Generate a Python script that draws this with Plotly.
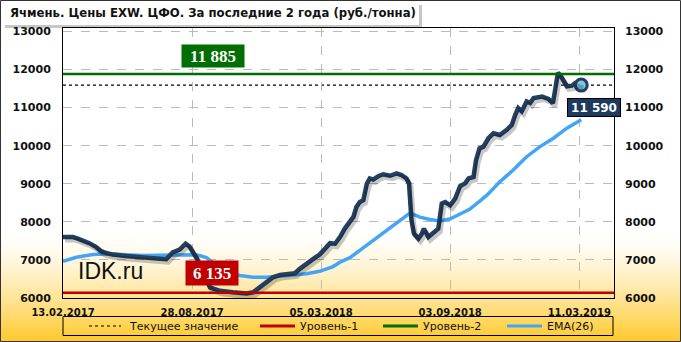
import plotly.graph_objects as go

# ---------------- data ----------------
tick_pos = [0, 26, 52, 78, 104]
tick_text = ["13.02.2017", "28.08.2017", "05.03.2018", "03.09.2018", "11.03.2019"]
y_ticks = [6000, 7000, 8000, 9000, 10000, 11000, 12000, 13000]

price_x = [0, 2.0, 3.0, 4.0, 5.3, 6.7, 7.7, 8.7, 10.0, 12.7, 15.4, 18.1, 20.8, 22.1, 23.5, 24.7,
           25.5, 26.2, 27.0, 29.6, 30.6, 31.6, 34.2, 37.0, 38.3, 39.6, 41.0, 42.3, 43.7, 45.7,
           46.7, 47.7, 49.1, 50.7, 51.7, 52.7, 53.8, 54.8, 55.8, 56.8, 57.8, 58.5, 59.1, 59.8,
           60.5, 61.2, 61.8, 62.5, 63.5, 64.5, 65.9, 67.2, 68.2, 69.2, 69.7, 69.9, 70.2, 70.7,
           71.6, 72.3, 72.7, 73.6, 74.6, 75.6, 76.3, 77.0, 78.0, 79.0, 80.0, 81.0, 81.7, 82.7,
           83.2, 83.9, 84.7, 85.7, 86.7, 88.0, 89.4, 90.4, 91.1, 91.7, 92.4, 93.4, 94.1, 94.8,
           96.5, 97.8, 98.7, 99.1, 99.7, 100.1, 100.8, 101.5, 102.5, 103.2, 104.4]
price_y = [7600, 7600, 7560, 7510, 7440, 7335, 7230, 7180, 7140, 7100, 7080, 7055, 7020, 7200,
           7270, 7425, 7350, 7200, 7030, 6280, 6240, 6190, 6150, 6120, 6150, 6280, 6410, 6545,
           6605, 6635, 6650, 6765, 6915, 7055, 7140, 7290, 7440, 7425, 7600, 7830, 8010, 8130,
           8390, 8520, 8570, 9000, 9140, 9110, 9200, 9250, 9210, 9270, 9230, 9140, 9010, 8570,
           8040, 7690, 7560, 7690, 7820, 7600, 7730, 7820, 8480, 8520, 8435, 8610, 8940, 9010,
           9140, 9180, 9620, 9930, 9975, 10195, 10325, 10280, 10415, 10545, 10810, 10985, 10900,
           11160, 11120, 11250, 11290, 11225, 11120, 11470, 11910, 11865, 11690, 11560, 11575,
           11645, 11590]

ema_x = [0, 2.7, 6.0, 9.4, 12.7, 16.1, 19.5, 22.8, 26.2, 27.5, 28.9, 30.9, 32.9, 35.6, 38.3,
         41.0, 43.7, 46.4, 49.1, 51.7, 54.4, 55.8, 57.8, 59.8, 62.5, 65.2, 67.9, 69.9, 71.9,
         73.9, 75.9, 77.9, 79.9, 81.9, 83.9, 85.4, 88.0, 90.7, 93.4, 96.1, 98.8, 101.5, 104.4]
ema_y = [6960, 7070, 7140, 7160, 7135, 7115, 7125, 7135, 7135, 7115, 7060, 6850, 6700, 6590,
         6545, 6545, 6570, 6590, 6635, 6700, 6825, 6940, 7060, 7250, 7510, 7775, 8040, 8230,
         8125, 8060, 8020, 8075, 8200, 8330, 8540, 8700, 9050, 9360, 9710, 9975, 10195, 10460,
         10680]

current_value = 11590
level_1 = 6135
level_2 = 11885

title = "Ячмень. Цены EXW. ЦФО. За последние 2 года (руб./тонна)"
legend_names = ["Текущее значение", "Уровень-1", "Уровень-2", "EMA(26)"]

# ---------------- styles ----------------
W, H = 681, 342
L, R, T, B = 63, 614, 28, 298
NAVY = "#243F60"
EMA_C = "#45A5F5"
GREEN = "#006E00"
RED = "#C00000"
DASH = "3px,3px"
X_RANGE = [0, 111]
Y_RANGE = [6000, 13090]
SH_DX, SH_DY = 2.0, 3.0  # shadow offset in pixels


def px(xp):
    return (xp - L) / (R - L)


def py(yp):
    return (B - yp) / (B - T)


# shadow axes: same scale, shifted by a few pixels
ux = (X_RANGE[1] - X_RANGE[0]) / (R - L)
uy = (Y_RANGE[1] - Y_RANGE[0]) / (B - T)
x_sh = [X_RANGE[0] - SH_DX * ux, X_RANGE[1] - SH_DX * ux]
y_sh = [Y_RANGE[0] + SH_DY * uy, Y_RANGE[1] + SH_DY * uy]

fig = go.Figure()

fig.add_trace(go.Scatter(x=price_x, y=price_y, mode="lines", xaxis="x2", yaxis="y3",
                         line=dict(color="rgba(0,0,0,0.22)", width=5),
                         showlegend=False, hoverinfo="skip"))
fig.add_trace(go.Scatter(x=ema_x, y=ema_y, mode="lines", line=dict(color=EMA_C, width=3.5),
                         showlegend=False, hoverinfo="skip"))
fig.add_trace(go.Scatter(x=price_x, y=price_y, mode="lines",
                         line=dict(color=NAVY, width=4.5), showlegend=False, hoverinfo="skip"))
fig.add_trace(go.Scatter(x=[price_x[-1]], y=[price_y[-1]], mode="markers",
                         marker=dict(size=12, color="#7CC6E6", line=dict(color=NAVY, width=3)),
                         showlegend=False, hoverinfo="skip"))
# dummy trace to draw right axis
fig.add_trace(go.Scatter(x=[price_x[0]], y=[price_y[0]], yaxis="y2", mode="markers",
                         marker=dict(opacity=0), showlegend=False, hoverinfo="skip"))

shapes = []
# background gradient
top, bot = 232, H
n = 55
for i in range(n):
    y0 = top + (bot - top) * i / n
    y1 = top + (bot - top) * (i + 1) / n + 0.6
    t = ((i + 0.5) / n) ** 1.4
    g = round(255 - (255 - 200) * t)
    b = round(255 - (255 - 40) * t)
    shapes.append(dict(type="rect", xref="paper", yref="paper", x0=px(-5), x1=px(W + 5),
                       y0=py(y1), y1=py(y0), fillcolor=f"rgb(255,{g},{b})",
                       line=dict(width=0), layer="below"))
# title box with shadow
shapes.append(dict(type="rect", xref="paper", yref="paper", x0=px(5), x1=px(422), y0=py(28),
                   y1=py(5), fillcolor="rgba(0,0,0,0.22)", line=dict(width=0), layer="below"))
shapes.append(dict(type="rect", xref="paper", yref="paper", x0=px(2), x1=px(419), y0=py(25),
                   y1=py(2), fillcolor="white", line=dict(width=0), layer="below"))
# level lines
shapes.append(dict(type="line", xref="paper", yref="y", x0=0, x1=1, y0=level_1, y1=level_1,
                   line=dict(color=RED, width=2.5)))
shapes.append(dict(type="line", xref="paper", yref="y", x0=0, x1=1, y0=level_2, y1=level_2,
                   line=dict(color=GREEN, width=2.5)))
shapes.append(dict(type="line", xref="paper", yref="y", x0=0, x1=1, y0=current_value,
                   y1=current_value, line=dict(color="black", width=1.2, dash=DASH),
                   layer="below"))
# legend box
ly = 326
shapes.append(dict(type="rect", xref="paper", yref="paper", x0=px(63), x1=px(613),
                   y0=py(335.5), y1=py(316.5), line=dict(color="black", width=1)))
leg_lines = [(89, 121, "black", DASH), (260, 295, RED, "solid"), (383, 418, GREEN, "solid"),
             (507, 542, EMA_C, "solid")]
for x0, x1, c, d in leg_lines:
    shapes.append(dict(type="line", xref="paper", yref="paper", x0=px(x0), x1=px(x1),
                       y0=py(ly), y1=py(ly),
                       line=dict(color=c, width=1.2 if d == DASH else 3, dash=d)))
# outer border
shapes.append(dict(type="rect", xref="paper", yref="paper", x0=px(0.5), x1=px(W - 0.5),
                   y0=py(H - 0.5), y1=py(0.5), line=dict(color="#333333", width=1)))

annotations = []
annotations.append(dict(text=f"<b>{title}</b>", xref="paper", yref="paper", x=px(8), y=py(13),
                        xanchor="left", yanchor="middle", showarrow=False,
                        font=dict(family="DejaVu Sans", size=11.7, color="#111111")))
leg_text_x = [127, 298, 421, 545]
for name, xt in zip(legend_names, leg_text_x):
    annotations.append(dict(text=name, xref="paper", yref="paper", x=px(xt), y=py(ly),
                            xanchor="left", yanchor="middle", showarrow=False,
                            font=dict(family="DejaVu Sans", size=11, color="#111111")))
annotations.append(dict(text="IDK.ru", xref="paper", yref="paper", x=px(76), y=py(271),
                        xanchor="left", yanchor="middle", showarrow=False,
                        font=dict(family="Liberation Sans", size=23, color="#111111")))
annotations.append(dict(text="<b>11 885</b>", x=30.3, y=level_2, xref="x", yref="y",
                        yanchor="bottom", yshift=6, showarrow=False, bgcolor=GREEN,
                        width=58, height=18, borderpad=2,
                        font=dict(family="Liberation Serif", size=17, color="white")))
annotations.append(dict(text="<b>6 135</b>", x=30.0, y=level_1, xref="x", yref="y",
                        yanchor="bottom", yshift=7, showarrow=False, bgcolor=RED,
                        width=48, height=20, borderpad=2,
                        font=dict(family="Liberation Serif", size=17, color="white")))
annotations.append(dict(text="<b>11 590</b>", x=price_x[-1], y=current_value, xref="x", yref="y",
                        yanchor="top", yshift=-13, xshift=13, showarrow=False, bgcolor="#1F3A5F",
                        bordercolor="black", borderwidth=1, width=50, height=15, borderpad=1,
                        font=dict(family="DejaVu Sans", size=12, color="white")))

axis_font = dict(family="DejaVu Sans", size=11, color="#111111")
fig.update_layout(
    width=W, height=H,
    margin=dict(l=L, r=W - R, t=T, b=H - B),
    paper_bgcolor="white", plot_bgcolor="rgba(0,0,0,0)",
    showlegend=False,
    shapes=shapes, annotations=annotations,
    xaxis=dict(range=X_RANGE, tickmode="array", tickvals=tick_pos,
               ticktext=[f"<b>{t}</b>" for t in tick_text],
               showgrid=True, gridcolor="#BBBBBB", griddash="dash", gridwidth=1,
               showline=True, linecolor="black", linewidth=1, mirror=True,
               zeroline=False, ticks="", ticklabelstandoff=5,
               tickfont=dict(family="DejaVu Sans", size=10, color="#111111")),
    xaxis2=dict(range=x_sh, overlaying="x", visible=False),
    yaxis=dict(range=Y_RANGE, tickmode="array", tickvals=y_ticks,
               ticktext=[f"<b>{v}</b>" for v in y_ticks],
               showgrid=True, gridcolor="#BBBBBB", griddash="dash", gridwidth=1,
               showline=True, linecolor="black", linewidth=1, mirror=True,
               zeroline=False, ticks="", ticklabelstandoff=9, tickfont=axis_font),
    yaxis2=dict(range=Y_RANGE, overlaying="y", side="right", tickmode="array",
                tickvals=y_ticks, ticktext=[f"<b>{v}</b>" for v in y_ticks],
                showgrid=False, zeroline=False, showline=False, ticks="",
                ticklabelstandoff=10, tickfont=axis_font),
    yaxis3=dict(range=y_sh, overlaying="y", visible=False),
)

fig.write_html("out.html")
